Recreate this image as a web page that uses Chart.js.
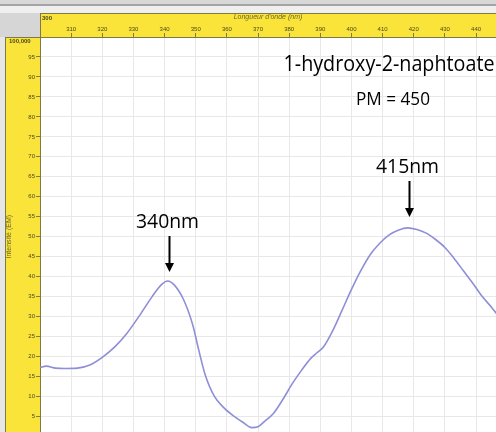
<!DOCTYPE html>
<html>
<head>
<meta charset="utf-8">
<title>Spectre 1-hydroxy-2-naphtoate</title>
<script src="https://cdn.jsdelivr.net/npm/chart.js@4.4.0/dist/chart.umd.min.js"></script>
<style>
  html, body { margin: 0; padding: 0; overflow: hidden; background: #fff; }
  canvas { display: block; }
</style>
</head>
<body>
<canvas id="spectre" width="496" height="441"></canvas>
<script>
// valeurs
const wavelengths = [300, 302, 305, 308, 312, 316, 320, 324, 328, 332, 336, 339, 341, 343, 346, 349, 351, 353, 356, 359, 362, 365, 368, 370, 372, 375, 378, 381, 384, 387, 389, 391, 394, 397, 400, 403, 406, 409, 412, 415, 418, 421, 424, 427, 430, 433, 436, 439, 442, 445, 448];
const intensities = [17.2, 17.6, 17.1, 17.0, 17.1, 17.9, 19.8, 22.4, 25.9, 30.3, 35.0, 38.0, 38.9, 38.0, 34.4, 28.0, 21.5, 15.5, 10.0, 7.2, 5.2, 3.6, 2.2, 2.4, 3.7, 5.8, 9.3, 13.2, 16.6, 19.6, 21.0, 22.4, 26.5, 31.6, 36.8, 41.5, 45.5, 48.3, 50.4, 51.6, 52.2, 51.8, 50.9, 49.3, 47.3, 44.5, 41.4, 38.3, 35.0, 32.3, 29.3];
const xTickValues = [310, 320, 330, 340, 350, 360, 370, 380, 390, 400, 410, 420, 430, 440];
const yTickValues = [0, 5, 10, 15, 20, 25, 30, 35, 40, 45, 50, 55, 60, 65, 70, 75, 80, 85, 90, 95, 100];
const peakLabels = ['340nm', '415nm'];
const peakPositions = [341.4, 418.5];
const compound = '1-hydroxy-2-naphtoate';
const molarMass = 'PM = 450';

const jaune = '#fae43a';
const bordure = '#7d7a45';

// fond gris, bandes jaunes et zone blanche
const bandes = {
  id: 'bandes',
  beforeDraw(chart) {
    const { ctx, chartArea: a, width, height } = chart;
    ctx.save();
    ctx.fillStyle = '#e6e6e6';
    ctx.fillRect(0, 0, width, height);
    ctx.fillStyle = '#d8d8d8';
    ctx.fillRect(0, 0, width, 4);
    ctx.fillStyle = '#a4a4a4';
    ctx.fillRect(0, 4, width, 2);
    ctx.fillStyle = '#efefef';
    ctx.fillRect(0, 6, width, 7);
    ctx.fillStyle = '#d6d6d6';
    ctx.fillRect(0, 13, a.left, a.top - 13);
    ctx.fillStyle = jaune;
    ctx.fillRect(a.left, 13, width - a.left, a.top - 13);
    ctx.fillRect(5, a.top, a.left - 5, height - a.top);
    ctx.fillStyle = '#fff';
    ctx.fillRect(a.left, a.top, a.right - a.left, a.bottom - a.top);
    ctx.strokeStyle = bordure;
    ctx.lineWidth = 1;
    ctx.strokeRect(a.left + 0.5, 13.5, width - a.left, a.top - 13);
    ctx.strokeRect(5.5, a.top + 0.5, a.left - 5, height - a.top);
    ctx.restore();
  },
  afterDraw(chart) {
    const { ctx, chartArea: a } = chart;
    ctx.save();
    ctx.fillStyle = '#4a4722';
    ctx.font = 'bold 6px "Liberation Sans"';
    ctx.textBaseline = 'top';
    ctx.textAlign = 'left';
    ctx.fillText('100,000', 9, a.top + 1);
    ctx.fillText('300', a.left + 2, 15);
    ctx.restore();
  }
};

// textes et fleches des pics
const annotations = {
  id: 'annotations',
  afterDraw(chart) {
    const { ctx, scales: { x } } = chart;
    ctx.save();
    ctx.fillStyle = '#000';
    ctx.strokeStyle = '#000';
    ctx.textAlign = 'center';
    ctx.textBaseline = 'alphabetic';
    ctx.font = '21px "Open Sans"';
    ctx.fillText(compound, 389, 71, 211);
    ctx.font = '18px "Open Sans"';
    ctx.fillText(molarMass, 393, 105, 74);

    const tops = [236, 181];
    ctx.font = '20px "Open Sans"';
    peakPositions.forEach((nm, i) => {
      const px = Math.round(x.getPixelForValue(nm)) + 0.5;
      const y0 = tops[i];
      ctx.fillText(peakLabels[i], px - 2, y0 - 8, 63);
      ctx.lineWidth = 2;
      ctx.beginPath();
      ctx.moveTo(px, y0);
      ctx.lineTo(px, y0 + 28);
      ctx.stroke();
      ctx.beginPath();
      ctx.moveTo(px - 4.5, y0 + 27);
      ctx.lineTo(px + 4.5, y0 + 27);
      ctx.lineTo(px, y0 + 36);
      ctx.closePath();
      ctx.fill();
    });
    ctx.restore();
  }
};

const config = {
  type: 'line',
  data: {
    datasets: [{
      data: wavelengths.map((w, i) => ({ x: w, y: intensities[i] })),
      borderColor: '#8e8fd6',
      borderWidth: 1.6,
      pointRadius: 0,
      cubicInterpolationMode: 'monotone',
      fill: false
    }]
  },
  options: {
    responsive: false,
    animation: false,
    layout: { autoPadding: false, padding: { left: 5, top: 13, right: 0, bottom: 2 } },
    plugins: { legend: { display: false }, tooltip: { enabled: false } },
    scales: {
      x: {
        type: 'linear',
        position: 'top',
        min: 300,
        max: 446.4,
        afterBuildTicks: s => { s.ticks = xTickValues.map(v => ({ value: v })); },
        afterFit: s => { s.height = 24; },
        grid: { color: '#e8e8e8', tickColor: bordure, tickLength: 4 },
        border: { color: bordure },
        ticks: { color: '#4a4722', font: { family: 'Liberation Sans', size: 6 }, padding: 0, maxRotation: 0 },
        title: { display: true, text: "Longueur d'onde (nm)", color: '#6b6730', padding: 0, font: { family: 'Liberation Sans', size: 7, style: 'italic' } }
      },
      y: {
        min: 0,
        max: 100,
        afterBuildTicks: s => { s.ticks = yTickValues.map(v => ({ value: v })); },
        afterFit: s => { s.width = 35; },
        grid: { color: '#e8e8e8', tickColor: bordure, tickLength: 4 },
        border: { color: bordure },
        ticks: {
          color: '#4a4722',
          font: { family: 'Liberation Sans', size: 6 },
          padding: 1,
          callback: v => (v === 100 || v === 0) ? '' : v
        },
        title: { display: true, text: 'Intensité (EM)', color: '#6b6730', padding: 0, font: { family: 'Liberation Sans', size: 7 } }
      }
    }
  },
  plugins: [bandes, annotations]
};

window.onload = function() {
  const ctx = document.getElementById('spectre').getContext('2d');
  new Chart(ctx, config);
};
</script>
</body>
</html>
